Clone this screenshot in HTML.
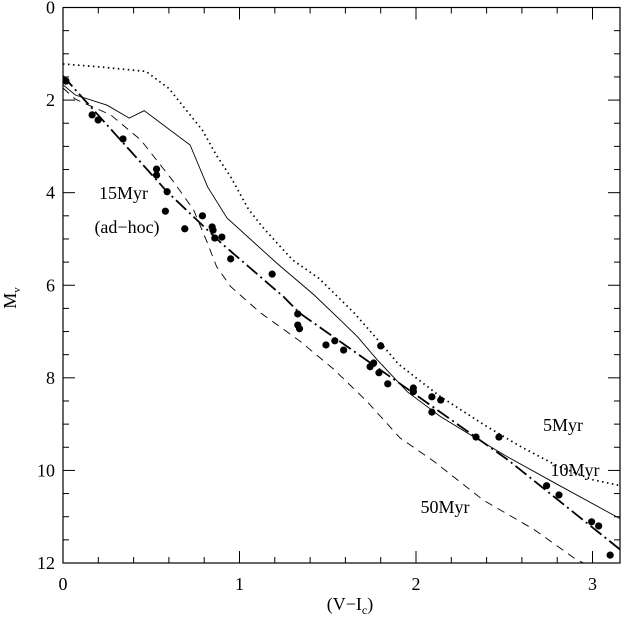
<!DOCTYPE html>
<html><head><meta charset="utf-8"><style>
body{margin:0;background:#fff}
svg{display:block}
text{font-family:"Liberation Serif","DejaVu Serif",serif;fill:#000}
</style></head><body>
<svg id="chart" width="621" height="617" viewBox="0 0 621 617" xmlns="http://www.w3.org/2000/svg">
<g id="axes"></g>
<g id="series"></g>
<g id="points"></g>
<text x="148" y="199" font-size="18" text-anchor="end">15Myr</text>
<text x="127" y="233" font-size="18" text-anchor="middle">(ad−hoc)</text>
<text x="563" y="431" font-size="18" text-anchor="middle">5Myr</text>
<text x="575" y="476" font-size="18" text-anchor="middle">10Myr</text>
<text x="445" y="513" font-size="18" text-anchor="middle">50Myr</text>
<text x="350" y="610" font-size="18" text-anchor="middle">(V−I<tspan font-size="12" dy="4">c</tspan><tspan dy="-4">)</tspan></text>
<g transform="translate(16,298) rotate(-90)"><text x="0" y="0" font-size="18" text-anchor="middle">M<tspan font-size="11" dy="4">v</tspan></text></g>
</svg>
<script>
const xTicks=[0,1,2,3];
const yTicks=[0,2,4,6,8,10,12];
const ptX=[0.017,0.165,0.199,0.34,0.53,0.53,0.59,0.58,0.69,0.79,0.845,0.85,0.86,0.90,0.95,1.185,1.33,1.33,1.34,1.49,1.54,1.59,1.80,1.74,1.76,1.79,1.84,1.985,1.985,2.09,2.09,2.14,2.34,2.47,2.74,2.81,2.995,3.035,3.10];
const ptY=[1.59,2.32,2.43,2.84,3.49,3.62,3.98,4.40,4.78,4.50,4.74,4.81,4.98,4.96,5.43,5.76,6.62,6.86,6.94,7.29,7.20,7.40,7.31,7.76,7.68,7.89,8.13,8.22,8.30,8.41,8.74,8.48,9.28,9.28,10.33,10.53,11.11,11.20,11.83];
const myr5X=[0,0.2,0.47,0.6,0.79,0.87,0.95,1.05,1.13,1.3,1.45,1.65,1.8,1.9,2.0,2.14,2.4,2.6,2.8,3.0,3.16];
const myr5Y=[1.22,1.28,1.38,1.75,2.65,3.2,3.66,4.35,4.74,5.45,5.85,6.6,7.25,7.7,8.0,8.41,9.05,9.5,9.9,10.2,10.33];
const myr10X=[0,0.07,0.25,0.375,0.46,0.72,0.82,0.93,1.21,1.42,1.59,1.67,1.78,1.95,2.14,2.33,2.52,2.8,3.16];
const myr10Y=[1.67,1.89,2.11,2.39,2.23,2.97,3.88,4.55,5.52,6.2,6.82,7.12,7.61,8.3,8.84,9.28,9.71,10.3,11.05];
const myr50X=[0,0.07,0.27,0.44,0.62,0.74,0.82,0.87,0.95,1.12,1.34,1.53,1.72,1.91,2.1,2.38,2.67,2.91,2.95];
const myr50Y=[1.74,1.98,2.32,2.86,3.73,4.37,5.1,5.6,6.03,6.6,7.2,7.8,8.5,9.3,9.8,10.64,11.28,11.93,12];
const myr15X=[0,0.3,0.59,0.9,1.25,1.34,1.985,2.52,3.16];
const myr15Y=[1.48,2.75,3.98,5.1,6.25,6.6,8.33,9.77,11.72];

const L=63,R=620,T=7.5,B=563;
const X0=0,X1=(R-L)/176.5,Y0=0,Y1=12;
const sx=v=>L+(v-X0)/(X1-X0)*(R-L);
const sy=v=>T+(v-Y0)/(Y1-Y0)*(B-T);
const NS="http://www.w3.org/2000/svg";
function mk(tag,attrs,parent){const e=document.createElementNS(NS,tag);for(const k in attrs)e.setAttribute(k,attrs[k]);parent.appendChild(e);return e;}
const axes=document.getElementById('axes');
const frame=mk('rect',{x:L,y:T,width:R-L,height:B-T,fill:'none',stroke:'#000','stroke-width':1.2},axes);


for(let i=0;i*0.2<=X1+1e-9;i++){
  const v=i*0.2,x=sx(v),len=(i%5===0)?12:6;
  const t1=mk('line',{x1:x,x2:x,y1:B,y2:B-len,stroke:'#000'},axes);
  
  
  const t2=mk('line',{x1:x,x2:x,y1:T,y2:T+len,stroke:'#000'},axes);
  
  
}
xTicks.forEach(v=>{
  const t=mk('text',{x:sx(v),y:B+27,'font-size':18,'text-anchor':'middle'},axes);
  t.textContent=v;
  
  
});
for(let i=0;i*0.5<=Y1+1e-9;i++){
  const v=i*0.5,y=sy(v),len=(i%4===0)?12:6;
  const t1=mk('line',{x1:L,x2:L+len,y1:y,y2:y,stroke:'#000'},axes);
  
  
  const t2=mk('line',{x1:R,x2:R-len,y1:y,y2:y,stroke:'#000'},axes);
  
  
}
yTicks.forEach(v=>{
  const t=mk('text',{x:L-8,y:sy(v)+6,'font-size':18,'text-anchor':'end'},axes);
  t.textContent=v;
  
  
});
const series=document.getElementById('series');
function line(xs,ys,style,name){
  const d=xs.map((v,i)=>(i?'L':'M')+sx(v).toFixed(1)+','+sy(ys[i]).toFixed(1)).join('');
  const p=mk('path',Object.assign({d:d,fill:'none',stroke:'#000'},style),series);
  
  
}
const clip=mk('clipPath',{id:'cp'},document.getElementById('chart'));
mk('rect',{x:L,y:T,width:R-L,height:B-T},clip);
series.setAttribute('clip-path','url(#cp)');
line(myr5X,myr5Y,{'stroke-width':1.7,'stroke-dasharray':'1.5 3.5'},'isochrone-5myr');
line(myr10X,myr10Y,{'stroke-width':0.9},'isochrone-10myr');
line(myr50X,myr50Y,{'stroke-width':0.9,'stroke-dasharray':'8 6'},'isochrone-50myr');
line(myr15X,myr15Y,{'stroke-width':1.8,'stroke-dasharray':'14 4 2 4'},'isochrone-15myr-adhoc');
const pts=document.getElementById('points');
ptX.forEach((v,i)=>{
  const c=mk('circle',{cx:sx(v),cy:sy(ptY[i]),r:3.6,fill:'#000'},pts);
  
  
});
</script>
</body></html>
